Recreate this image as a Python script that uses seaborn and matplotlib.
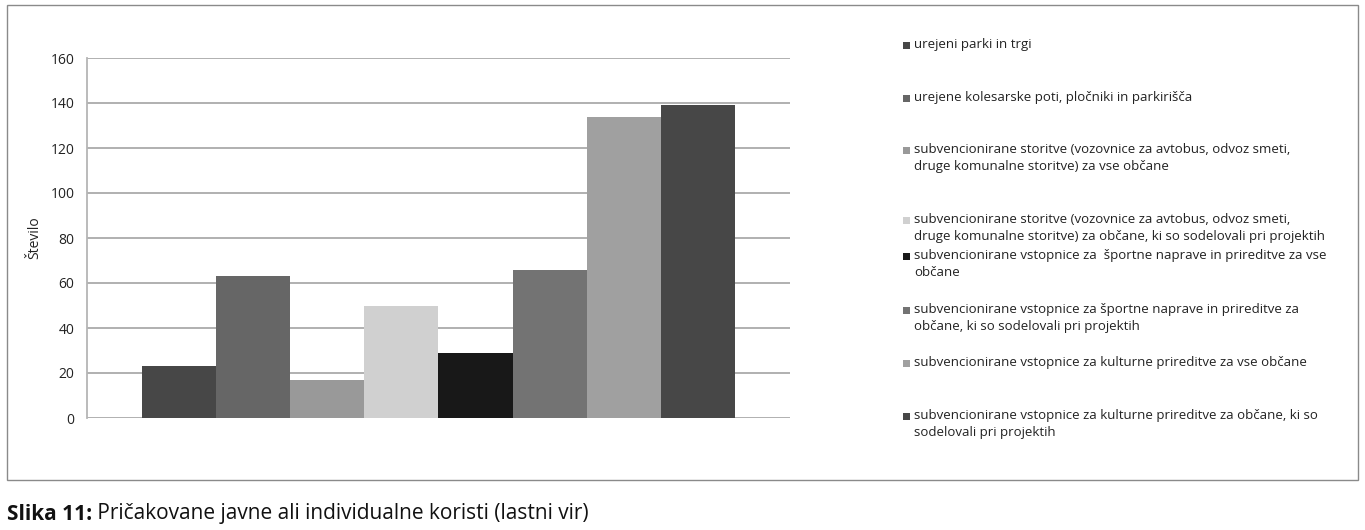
import matplotlib
matplotlib.use("Agg")
import matplotlib.pyplot as plt
import seaborn as sns
import pandas as pd
from matplotlib.patches import Rectangle
from matplotlib import font_manager

categories = [
    "urejeni parki in trgi",
    "urejene kolesarske poti, pločniki in parkirišča",
    "subvencionirane storitve (vozovnice za avtobus, odvoz smeti,\ndruge komunalne storitve) za vse občane",
    "subvencionirane storitve (vozovnice za avtobus, odvoz smeti,\ndruge komunalne storitve) za občane, ki so sodelovali pri projektih",
    "subvencionirane vstopnice za  športne naprave in prireditve za vse\nobčane",
    "subvencionirane vstopnice za športne naprave in prireditve za\nobčane, ki so sodelovali pri projektih",
    "subvencionirane vstopnice za kulturne prireditve za vse občane",
    "subvencionirane vstopnice za kulturne prireditve za občane, ki so\nsodelovali pri projektih",
]
values = [23, 63, 17, 50, 29, 66, 134, 139]
colors = ["#474747", "#666666", "#999999", "#d0d0d0", "#181818", "#737373", "#a0a0a0", "#474747"]
yticks = [0, 20, 40, 60, 80, 100, 120, 140, 160]
ylabel = "Število"
caption_bold = "Slika 11:"
caption_rest = " Pričakovane javne ali individualne koristi (lastni vir)"

sns.set_theme(style="white")
plt.rcParams["font.family"] = ["Open Sans", "DejaVu Sans"]

names = {f.name for f in font_manager.fontManager.ttflist}
if "Liberation Sans Narrow" in names:
    cap_family = ["Liberation Sans Narrow", "DejaVu Sans"]
    cap_size = 17
else:
    cap_family = ["Open Sans", "DejaVu Sans"]
    cap_size = 15

fig = plt.figure(figsize=(13.65, 5.30), dpi=100)
W, H = 1365, 530

# outer frame
fig.patches.append(Rectangle((7 / W, 1 - 480 / H), (1358 - 7) / W, (480 - 5) / H,
                             transform=fig.transFigure, fill=False,
                             edgecolor="#8a8a8a", linewidth=1.0))

ax = fig.add_axes([87 / W, 112 / H, (790 - 87) / W, 360 / H])
df = pd.DataFrame({"cat": categories, "val": values})
sns.barplot(data=df, x="cat", y="val", hue="cat", palette=colors,
            width=1.0, legend=False, ax=ax, saturation=1, order=categories,
            hue_order=categories, linewidth=0)
ax.set_xlim(-1.246, 8.246)
ax.set_ylim(0, 160)
ax.set_yticks(yticks)
ax.set_yticklabels([str(t) for t in yticks], fontsize=10, color="#222222")
ax.set_xticks([])
ax.set_xlabel("")
ax.set_ylabel(ylabel, fontsize=10, color="#222222")
ax.yaxis.set_label_coords(-45 / 703, 0.5)
ax.tick_params(axis="y", length=0, pad=9)
for s in ["top", "right", "bottom"]:
    ax.spines[s].set_visible(False)
ax.spines["left"].set_color("#b5b5b5")
ax.spines["left"].set_linewidth(1.3)
ax.yaxis.grid(True, color="#b0b0b0", linewidth=1.4)
ax.set_axisbelow(True)

# legend entries
leg_y = [45, 98, 150, 220, 256, 310, 363, 416]
for yy, lab, c in zip(leg_y, categories, colors):
    fig.patches.append(Rectangle((903 / W, 1 - (yy + 4) / H), 7 / W, 7 / H,
                                 transform=fig.transFigure, facecolor=c,
                                 edgecolor="none"))
    fig.text(914 / W, 1 - (yy - 7) / H, lab, fontsize=9.5, color="#222222",
             va="top", ha="left", linespacing=1.4)

# caption
t = fig.text(7 / W, 1 - 514 / H, caption_bold, fontsize=cap_size, fontweight="bold",
             color="#111111", va="center", ha="left", family=cap_family)
fig.canvas.draw()
bb = t.get_window_extent()
fig.text(bb.x1 / W, 1 - 514 / H, caption_rest, fontsize=cap_size, color="#111111",
         va="center", ha="left", family=cap_family)

fig.savefig("out.png", dpi=100)
